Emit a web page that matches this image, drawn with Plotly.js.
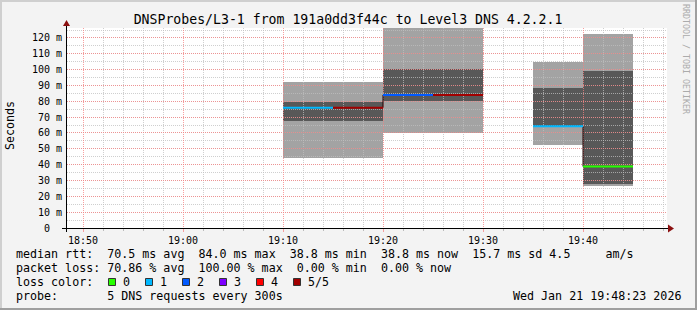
<!DOCTYPE html>
<html><head><meta charset="utf-8">
<script src="https://cdn.plot.ly/plotly-3.0.1.min.js"></script>
<style>html,body{margin:0;padding:0;background:#f3f3f3;overflow:hidden;}</style>
</head><body><div id="chart" style="width:697px;height:310px;"></div>
<script>
// ---- data (5-minute probe intervals) ----
const intervalStart = ['2026-01-21 19:10:00','2026-01-21 19:15:00','2026-01-21 19:20:00','2026-01-21 19:25:00','2026-01-21 19:30:00','2026-01-21 19:35:00','2026-01-21 19:40:00'];
const rttMin    = [44.0, 44.0, 60.2, 60.2, null, 52.2, 26.7];
const rttLow    = [67.8, 67.8, 80.0, 80.0, null, 64.2, 28.0];
const rttHigh   = [79.6, 79.6, 100.2, 100.2, null, 88.2, 98.9];
const rttMax    = [92.4, 92.4, 130.0, 130.0, null, 104.6, 122.3];
const rttMedian = [76.0, 76.0, 84.0, 84.0, null, 64.2, 38.8];
const lossCount = [1, 5, 2, 5, 5, 1, 0];
const lossLabels = ['0','1','2','3','4','5/5'];
const lossColors = ['#26ff00','#00b8ff','#0059ff','#7e00ff','#ff0000','#a10000'];
const yTickVals = [0,10,20,30,40,50,60,70,80,90,100,110,120];
const yTickText = ['0\u00a0\u00a0','10 m','20 m','30 m','40 m','50 m','60 m','70 m','80 m','90 m','100 m','110 m','120 m'];
const xRange = ['2026-01-21 18:48:24','2026-01-21 19:48:24'];
const yRange = [0, 126.3];
const statLines = [
  'median rtt:  70.5 ms avg  84.0 ms max  38.8 ms min  38.8 ms now  15.7 ms sd 4.5     am/s',
  'packet loss: 70.86 % avg  100.00 % max  0.00 % min  0.00 % now',
  'loss color:',
  'probe:       5 DNS requests every 300s'
];
const stampText = 'Wed Jan 21 19:48:23 2026';
const stepMs = 300000;

// ---- helpers ----
const L=67, T=28, PW=600, PH=200;
const px = x => (x-L)/PW;
const py = y => (T+PH-y)/PH;
const toMs = s => Date.parse(s.replace(' ','T')+'Z');
const fromMs = m => new Date(m).toISOString().slice(0,19).replace('T',' ');
const nb = s => s.replace(/ /g,'\u00a0');
const MONO = 'DejaVu Sans Mono';
const MAJ = 'rgba(245,128,128,0.75)', MIN = 'rgba(191,191,191,0.75)';

const idx = intervalStart.map((_,i)=>i).filter(i=>rttMedian[i]!==null);

const traces = [];
// smoke on the bottom subplot (x/y)
traces.push({type:'bar', xaxis:'x', yaxis:'y', x: idx.map(i=>intervalStart[i]), base: idx.map(i=>rttMin[i]),
  y: idx.map(i=>rttMax[i]-rttMin[i]), width: stepMs, offset: 0,
  marker:{color:'#a3a3a3', line:{width:0}}, hoverinfo:'skip', showlegend:false});
traces.push({type:'bar', xaxis:'x', yaxis:'y', x: idx.map(i=>intervalStart[i]), base: idx.map(i=>rttLow[i]),
  y: idx.map(i=>rttHigh[i]-rttLow[i]), width: stepMs, offset: 0,
  marker:{color:'#585858', line:{width:0}}, hoverinfo:'skip', showlegend:false});
// median lines on the top subplot (x2/y2), whose grid sits above the smoke
const cx = intervalStart.slice(); cx.push(fromMs(toMs(intervalStart[intervalStart.length-1])+stepMs));
const cy = rttMedian.slice(); cy.push(rttMedian[rttMedian.length-1]);
traces.push({type:'scatter', mode:'lines', xaxis:'x2', yaxis:'y2', x: cx, y: cy, line:{shape:'hv', color:'#1a0000', width:1},
  connectgaps:false, hoverinfo:'skip', showlegend:false});
idx.forEach(i=>{
  traces.push({type:'scatter', mode:'lines', xaxis:'x2', yaxis:'y2', x:[intervalStart[i], fromMs(toMs(intervalStart[i])+stepMs)],
    y:[rttMedian[i], rttMedian[i]], line:{color: lossColors[lossCount[i]], width:2},
    hoverinfo:'skip', showlegend:false});
});

const shapes = [];
// white canvas under everything
shapes.push({type:'rect', xref:'paper', yref:'paper', x0:0, x1:1, y0:0, y1:1, fillcolor:'#ffffff', line:{width:0}, layer:'below'});
// axes lines and arrows
shapes.push({type:'line', xref:'paper', yref:'paper', x0:px(62), x1:px(669), y0:py(228.5), y1:py(228.5), line:{color:'#000', width:1}, layer:'above'});
shapes.push({type:'line', xref:'paper', yref:'paper', x0:px(66.5), x1:px(66.5), y0:py(232), y1:py(25), line:{color:'#000', width:1}, layer:'above'});
shapes.push({type:'path', xref:'paper', yref:'paper', path:`M ${px(668)},${py(224.5)} L ${px(674)},${py(228.5)} L ${px(668)},${py(232.5)} Z`, fillcolor:'#8b1010', line:{width:0}, layer:'above'});
shapes.push({type:'path', xref:'paper', yref:'paper', path:`M ${px(63)},${py(26)} L ${px(66.5)},${py(20)} L ${px(70)},${py(26)} Z`, fillcolor:'#8b1010', line:{width:0}, layer:'above'});
// frame
const frame = (x0,y0,x1,y1,c)=>shapes.push({type:'rect', xref:'paper', yref:'paper', x0:px(x0), x1:px(x1), y0:py(y0), y1:py(y1), fillcolor:c, line:{width:0}, layer:'above'});
frame(0,0,697,2,'#cfcfcf'); frame(0,0,2,310,'#cfcfcf');
frame(0,308,697,310,'#9f9f9f'); frame(695,0,697,310,'#9f9f9f');
// loss colour boxes
lossColors.forEach((c,k)=>{
  const bx = 108 + k*37;
  shapes.push({type:'rect', xref:'paper', yref:'paper', x0:px(bx+0.5), x1:px(bx+7.5), y0:py(278.5), y1:py(285.5),
    fillcolor:c, line:{color:'#333', width:1}, layer:'above'});
});

// ---- texts ----
const ann = [];
const txt = (x,y,s,opt={}) => ann.push(Object.assign({xref:'paper', yref:'paper', x:px(x), y:py(y), text:nb(s), showarrow:false,
  xanchor:'left', yanchor:'middle', borderpad:0, borderwidth:0, font:{family:MONO, size:11.67, color:'#000'}}, opt));
const lineY = [254, 268, 282, 296];
statLines.forEach((s,k)=>txt(16, lineY[k], s));
lossLabels.forEach((s,k)=>txt(123 + k*37, 282, s));
txt(513.3, 296, stampText);
txt(10, 126, 'Seconds', {xanchor:'center', textangle:-90});
txt(686, 59, 'RRDTOOL / TOBI OETIKER', {xanchor:'center', textangle:90, font:{family:MONO, size:8.3, color:'#ababab'}});

const hiddenX = {type:'date', range:xRange, domain:[0,1], anchor:'y', visible:false, showgrid:false, zeroline:false, fixedrange:true};
const hiddenY = {range:yRange, domain:[0,1], anchor:'x', visible:false, showgrid:false, zeroline:false, fixedrange:true};

const layout = {
  width:697, height:310,
  margin:{l:67, r:30, t:28, b:82, pad:0},
  paper_bgcolor:'#f3f3f3', plot_bgcolor:'rgba(0,0,0,0)',
  barmode:'overlay', bargap:0,
  title:{text:'DNSProbes/L3-1 from 191a0dd3f44c to Level3 DNS 4.2.2.1', font:{family:MONO, size:13.2, color:'#000'},
    xref:'container', yref:'container', x:348/697, xanchor:'center', y:1-19/310, yanchor:'middle'},
  xaxis: hiddenX,
  yaxis: hiddenY,
  xaxis2:{type:'date', range:xRange, domain:[0,1], anchor:'y2', tickformat:'%H:%M', dtick:600000, tick0:'2026-01-21 18:50:00',
    showgrid:true, gridcolor:MAJ, griddash:'1px,1px', gridwidth:1, zeroline:false, showline:false,
    ticks:'outside', ticklen:3, tickcolor:MAJ, tickfont:{family:MONO, size:10, color:'#000'},
    minor:{dtick:120000, tick0:'2026-01-21 18:50:00', ticks:'outside', ticklen:2, tickcolor:'#bbbbbb',
      showgrid:true, gridcolor:MIN, griddash:'1px,1px', gridwidth:1}, fixedrange:true},
  yaxis2:{range:yRange, domain:[0,1], anchor:'x2', tickmode:'array', tickvals:yTickVals, ticktext:yTickText,
    showgrid:true, gridcolor:MAJ, griddash:'1px,1px', gridwidth:1, zeroline:false, showline:false,
    ticks:'', ticklabelstandoff:4, tickfont:{family:MONO, size:10, color:'#000'},
    minor:{tickmode:'linear', tick0:0, dtick:5, ticks:'', showgrid:true, gridcolor:MIN, griddash:'1px,1px', gridwidth:1},
    fixedrange:true},
  shapes:shapes, annotations:ann
};
Plotly.newPlot('chart', traces, layout, {staticPlot:true, displayModeBar:false});
</script></body></html>
